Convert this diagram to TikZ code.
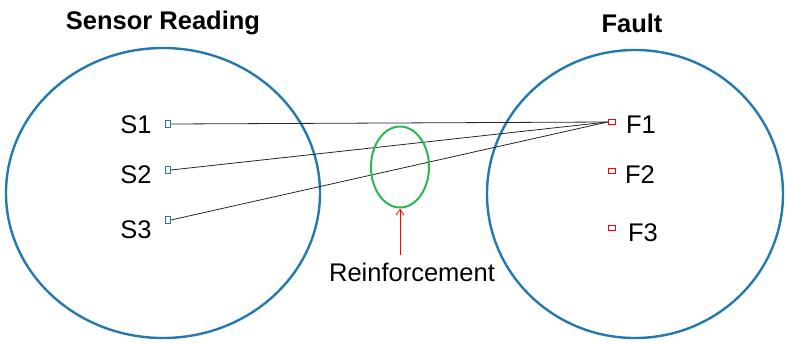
\documentclass[tikz,border=0pt]{standalone}
\usepackage{fontspec}
\setmainfont{Liberation Sans}
\usetikzlibrary{arrows.meta,shapes.geometric}
\definecolor{setblue}{RGB}{36,122,176}
\definecolor{regreen}{RGB}{40,185,80}
\begin{document}
\begin{tikzpicture}[x=1pt,y=-1pt,
  setring/.style={draw=setblue,line width=2.4pt},
  sbox/.style={draw=setblue,line width=1.3pt,minimum width=4.5pt,minimum height=7.5pt,inner sep=0pt},
  fbox/.style={draw=red,line width=1.3pt,minimum width=7.5pt,minimum height=4.5pt,inner sep=0pt},
  lbl/.style={font=\fontsize{25.5}{28}\selectfont,inner sep=0pt},
  ttl/.style={font=\fontsize{25.5}{28}\selectfont\bfseries,inner sep=0pt},
  link/.style={draw=black!85,line width=0.8pt}]
\useasboundingbox (0,0) rectangle (787,343);
\draw[setring] (163,193) ellipse [x radius=157, y radius=145];
\draw[setring] (635,194) ellipse [x radius=148, y radius=144];
\node[ttl] (t1) at (163,23) {Sensor Reading};
\node[ttl] (t2) at (632,23) {Fault};
\node[sbox] (b1) at (168,124) {};
\node[sbox] (b2) at (168,170) {};
\node[sbox] (b3) at (168,220) {};
\node[lbl] (s1) at (136,125) {S1};
\node[lbl] (s2) at (136,175) {S2};
\node[lbl] (s3) at (136,230) {S3};
\node[fbox] (f1b) at (612,122) {};
\node[fbox] (f2b) at (612,171) {};
\node[fbox] (f3b) at (612,228) {};
\node[lbl] (f1) at (641,125) {F1};
\node[lbl] (f2) at (640,175) {F2};
\node[lbl] (f3) at (643,233) {F3};
\draw[link] (b1.east) -- (f1b.west);
\draw[link] (b2.east) -- (f1b.west);
\draw[link] (b3.east) -- (f1b.west);
\node[draw=regreen,line width=2pt,ellipse,minimum width=58pt,minimum height=81pt,inner sep=0pt] (g) at (400,167) {};
\node[lbl] (r) at (412,272) {Reinforcement};
\draw[red,line width=0.8pt,-{Straight Barb[length=6pt,width=8pt]}] (400,255) -- (g.south);
\end{tikzpicture}
\end{document}
